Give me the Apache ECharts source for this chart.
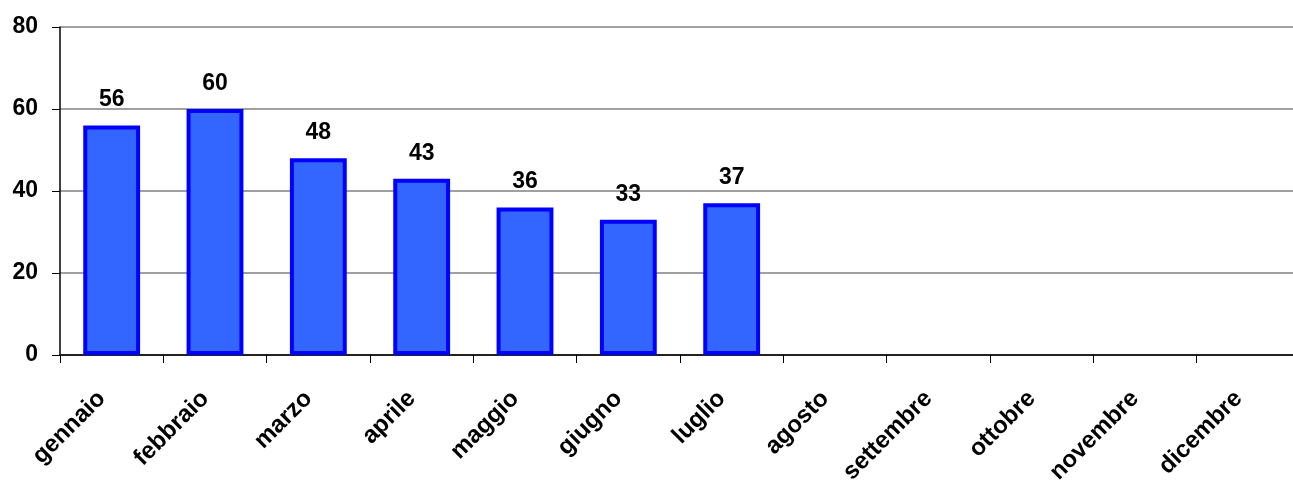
<!DOCTYPE html>
<html>
<head>
<meta charset="utf-8">
<script src="https://cdn.jsdelivr.net/npm/echarts@6/dist/echarts.min.js"></script>
<style>
html,body{margin:0;padding:0;background:#fff;overflow:hidden;}
#c{width:1293px;height:483px;}
</style>
</head>
<body>
<div id="c"></div>
<script>
const categories = ['gennaio','febbraio','marzo','aprile','maggio','giugno','luglio','agosto','settembre','ottobre','novembre','dicembre'];
const values = [56, 60, 48, 43, 36, 33, 37, null, null, null, null, null];
const yTicks = [0, 20, 40, 60, 80];

const chart = echarts.init(document.getElementById('c'));
const font = '"Liberation Sans", Arial, sans-serif';
chart.setOption({
  animation: false,
  grid: {left: 60, right: -7, top: 27, bottom: 128, containLabel: false, outerBoundsMode: 'none'},
  xAxis: {
    type: 'category',
    data: categories,
    boundaryGap: true,
    axisLine: {lineStyle: {color: '#222', width: 2}},
    axisTick: {show: true, length: 8, alignWithLabel: false, lineStyle: {color: '#000', width: 1}},
    axisLabel: {rotate: 45, margin: 30, padding: [0, 14, 0, 0], color: '#000', fontWeight: 'bold', fontSize: 24, fontFamily: font, interval: 0, hideOverlap: false}
  },
  yAxis: {
    type: 'value',
    min: yTicks[0],
    max: yTicks[yTicks.length - 1],
    interval: 20,
    axisLine: {show: true, lineStyle: {color: '#000', width: 1.5}},
    axisTick: {show: true, length: 8, lineStyle: {color: '#000'}},
    axisLabel: {margin: 22, color: '#000', fontWeight: 'bold', fontSize: 23, fontFamily: font},
    splitLine: {show: true, lineStyle: {color: '#808080', width: 1.5}}
  },
  series: [{
    type: 'bar',
    data: values,
    barWidth: '55%',
    itemStyle: {color: '#3366FF', borderColor: '#0000FF', borderWidth: 4},
    label: {show: true, position: 'top', distance: 14, color: '#000', fontWeight: 'bold', fontSize: 23, fontFamily: font}
  }]
});
</script>
</body>
</html>
